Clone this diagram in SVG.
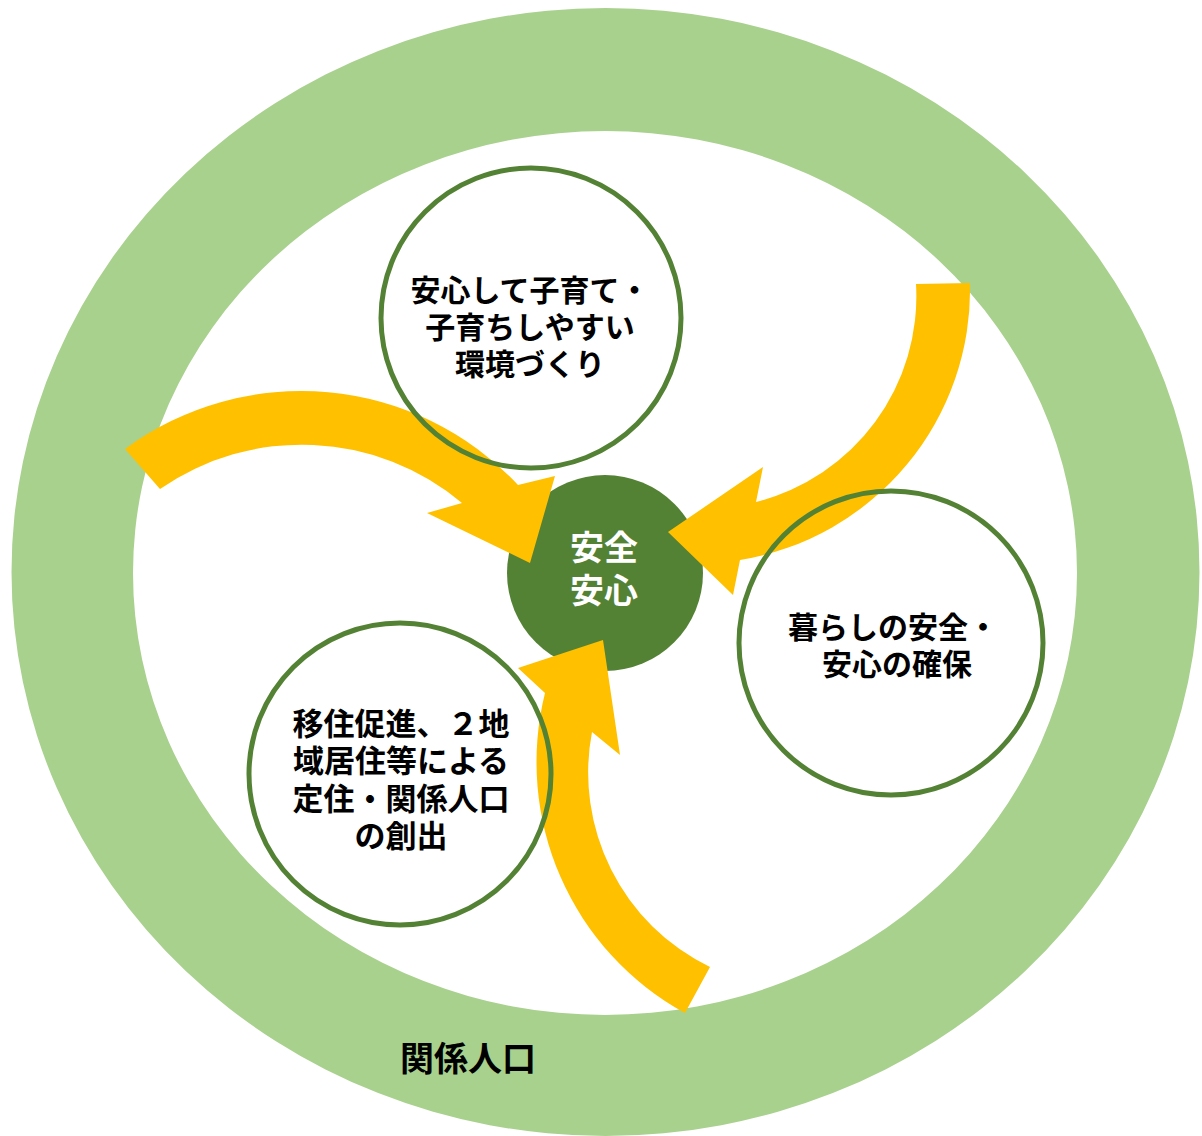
<svg xmlns="http://www.w3.org/2000/svg" width="1202" height="1136" viewBox="0 0 1202 1136">
<style>
.ring{fill:#A9D18E;fill-rule:evenodd}
.node{fill:none;stroke:#548235;stroke-width:5}
.core{fill:#548235}
.arrow{fill:#FFC000}
.t{font-family:"Liberation Sans","Noto Sans CJK JP","Noto Sans CJK SC",sans-serif;font-weight:700;fill:#000;text-anchor:middle}
.w{fill:#fff}
</style>
<rect width="1202" height="1136" fill="#fff"/>
<g id="ring">
<path class="ring" d="M11.5,572 A594,564 0 1,0 1199.5,572 A594,564 0 1,0 11.5,572 Z M133,573 A472,442 0 1,0 1077,573 A472,442 0 1,0 133,573 Z"/>
<text class="t" x="468" y="1071" font-size="34">関係人口</text>
</g>
<g id="core">
<circle class="core" cx="605" cy="573" r="98"/>
<text class="t w" font-size="34"><tspan x="604" y="560">安全</tspan><tspan x="604" y="603">安心</tspan></text>
</g>
<g id="connectors">
<path class="arrow" d="M125,449 A297,297 0 0,1 518,485 L555,476 L530,563 L427,513 L462,503 A249,249 0 0,0 160,489 Z"/>
<path class="arrow" d="M970,283 A274,274 0 0,1 740,560 L733,595 L668,532 L763,467 L756,502 A212,212 0 0,0 916,284 Z"/>
<path class="arrow" d="M685,1013 A286,286 0 0,1 545,693 L518,668 L603,640 L620,755 L592,732 A216,216 0 0,0 710,967 Z"/>
</g>
<g id="node-top">
<circle class="node" cx="531" cy="318" r="150"/>
<text class="t" font-size="30"><tspan x="530" y="301">安心して子育て・</tspan><tspan x="530" y="338">子育ちしやすい</tspan><tspan x="530" y="375">環境づくり</tspan></text>
</g>
<g id="node-right">
<circle class="node" cx="891" cy="643" r="152"/>
<text class="t" font-size="30"><tspan x="893" y="638">暮らしの安全・</tspan><tspan x="897" y="675">安心の確保</tspan></text>
</g>
<g id="node-left">
<circle class="node" cx="400" cy="774" r="151"/>
<text class="t" font-size="31"><tspan x="401" y="735">移住促進、２地</tspan><tspan x="401" y="772">域居住等による</tspan><tspan x="401" y="810">定住・関係人口</tspan><tspan x="401" y="847">の創出</tspan></text>
</g>
</svg>
